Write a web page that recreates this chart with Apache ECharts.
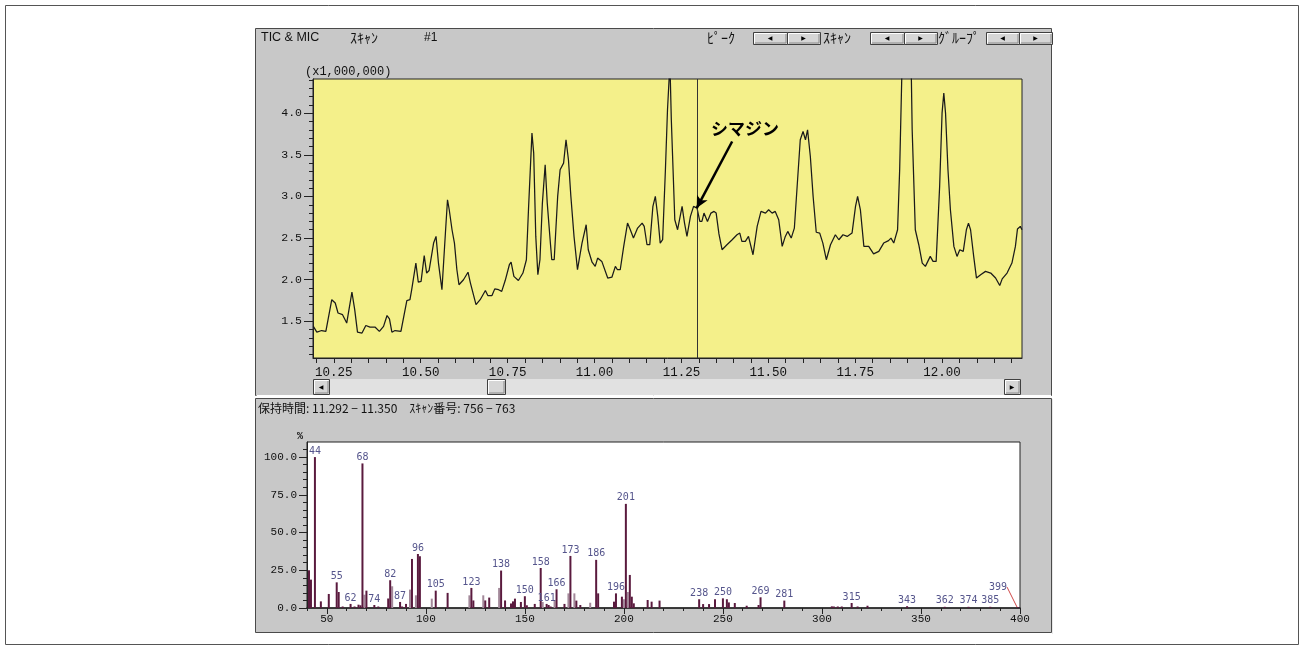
<!DOCTYPE html>
<html><head><meta charset="utf-8">
<script src="https://cdn.jsdelivr.net/npm/echarts@6/dist/echarts.min.js"></script>
<style>html,body{margin:0;padding:0;background:#fff}#c{width:1304px;height:649px}</style>
</head><body><div id="c"></div>
<script>
// ---------- TIC chromatogram (retention time in min, intensity x1,000,000) ----------
const ticTime = [10.191,10.201,10.215,10.227,10.244,10.254,10.262,10.275,10.287,10.302,10.310,10.318,10.331,10.342,10.354,10.369,10.381,10.393,10.403,10.410,10.417,10.426,10.443,10.460,10.469,10.474,10.486,10.493,10.501,10.510,10.517,10.524,10.537,10.544,10.551,10.561,10.571,10.577,10.582,10.590,10.597,10.604,10.610,10.623,10.636,10.643,10.659,10.671,10.686,10.693,10.705,10.713,10.724,10.733,10.743,10.755,10.760,10.768,10.781,10.794,10.804,10.810,10.820,10.825,10.831,10.837,10.843,10.850,10.858,10.864,10.873,10.877,10.884,10.894,10.901,10.911,10.918,10.925,10.932,10.941,10.951,10.964,10.976,10.982,10.993,11.002,11.009,11.021,11.038,11.050,11.060,11.066,11.074,11.084,11.095,11.103,11.112,11.124,11.137,11.143,11.151,11.159,11.168,11.175,11.182,11.189,11.196,11.204,11.210,11.217,11.221,11.226,11.231,11.239,11.252,11.259,11.266,11.276,11.285,11.295,11.303,11.309,11.315,11.325,11.335,11.344,11.350,11.358,11.367,11.381,11.396,11.410,11.418,11.424,11.434,11.443,11.456,11.468,11.479,11.492,11.501,11.511,11.520,11.530,11.540,11.549,11.556,11.566,11.575,11.583,11.592,11.600,11.607,11.613,11.621,11.629,11.638,11.648,11.657,11.667,11.679,11.693,11.703,11.715,11.727,11.741,11.751,11.757,11.765,11.775,11.789,11.803,11.818,11.832,11.846,11.853,11.861,11.872,11.878,11.885,11.891,11.898,11.905,11.911,11.914,11.923,11.933,11.943,11.952,11.966,11.974,11.983,11.993,12.000,12.005,12.010,12.017,12.024,12.034,12.043,12.051,12.061,12.070,12.076,12.082,12.091,12.099,12.111,12.125,12.140,12.154,12.166,12.173,12.187,12.201,12.211,12.217,12.225,12.230];
const ticValue = [1.44,1.37,1.39,1.38,1.76,1.72,1.60,1.58,1.48,1.85,1.64,1.37,1.36,1.45,1.43,1.43,1.38,1.44,1.57,1.53,1.37,1.39,1.38,1.75,1.76,1.88,2.20,1.97,1.98,2.29,2.08,2.11,2.44,2.52,2.20,1.88,2.56,2.96,2.84,2.60,2.44,2.12,1.94,2.00,2.09,1.96,1.70,1.76,1.87,1.81,1.81,1.89,1.88,1.86,1.99,2.18,2.21,2.04,1.99,2.08,2.24,2.84,3.76,3.52,2.52,2.06,2.24,2.92,3.38,2.92,2.44,2.24,2.24,3.00,3.32,3.40,3.68,3.44,3.00,2.52,2.12,2.44,2.66,2.36,2.21,2.16,2.26,2.22,2.02,2.03,2.16,2.12,2.12,2.40,2.68,2.60,2.50,2.62,2.68,2.64,2.42,2.42,2.88,3.00,2.76,2.44,2.48,3.32,4.04,4.60,3.92,3.32,2.72,2.60,2.88,2.68,2.52,2.76,2.88,2.86,2.70,2.70,2.80,2.70,2.80,2.82,2.80,2.55,2.36,2.42,2.48,2.54,2.56,2.46,2.46,2.52,2.30,2.64,2.82,2.80,2.84,2.80,2.82,2.72,2.40,2.52,2.58,2.50,2.62,3.12,3.68,3.78,3.68,3.80,3.48,3.00,2.57,2.56,2.44,2.24,2.42,2.54,2.48,2.54,2.52,2.56,2.88,3.00,2.84,2.40,2.40,2.31,2.34,2.44,2.47,2.50,2.44,2.60,3.32,4.60,5.40,5.60,5.30,4.60,3.80,2.60,2.42,2.20,2.16,2.28,2.22,2.22,3.12,4.00,4.24,4.00,3.32,2.84,2.40,2.28,2.36,2.34,2.60,2.68,2.60,2.28,2.02,2.06,2.10,2.08,2.02,1.93,2.01,2.08,2.20,2.40,2.61,2.64,2.60];
const ticXLabels = [10.25,10.50,10.75,11.00,11.25,11.50,11.75,12.00];
const ticYLabels = [1.5,2.0,2.5,3.0,3.5,4.0];
const cursorTime = 11.295;
const compoundName = 'シマジン';
const arrowFrom = [11.396, 3.66];
const arrowTo = [11.294, 2.86];

// ---------- Mass spectrum (m/z, relative intensity %) ----------
const specMz  = [41,42,44,47,51,55,56,58,62,64,66,67,68,70,74,76,81,82,87,88,90,93,96,97,105,111,123,124,130,132,138,140,143,144,145,148,150,151,155,158,161,162,163,166,170,173,176,178,186,187,195,196,199,201,203,204,205,212,214,218,238,240,243,246,250,252,253,256,262,268,269,281,305,306,308,310,315,318,323,343,362,374,385];
const specInt = [25.0,18.8,100,4.4,9.3,17.0,10.6,1.0,2.7,1.0,2.2,1.8,95.8,11.5,2.0,1.0,6.3,18.4,4.0,1.0,2.7,32.5,35.8,34.3,11.5,10.0,13.3,5.0,5.0,6.9,24.8,5.0,3.0,4.4,6.2,4.0,7.8,1.8,2.7,26.5,2.7,2.0,1.0,12.4,2.7,34.5,4.9,2.0,31.9,9.7,4.2,9.7,7.5,69.0,21.9,7.5,3.1,5.3,4.2,4.9,5.8,2.6,2.6,5.8,6.4,5.8,3.7,3.3,1.5,2.0,7.1,4.9,1.1,1.0,1.0,1.0,3.3,1.0,1.5,1.2,0.8,0.8,0.8];
const lightMz  = [69,83,92,95,103,122,129,137,159,165,172,175,183,200,202];
const lightInt = [8.8,14.4,12.2,8.4,6.2,8.4,8.4,13.3,4.0,5.3,9.7,9.7,3.5,5.8,10.6];
const labeledMz = [44,55,62,68,74,82,87,96,105,123,138,150,158,161,166,173,186,196,201,238,250,269,281,315,343,362,374,385];
const endMz = [399];
const endInt = [0.6];
const specXLabels = [50,100,150,200,250,300,350,400];
const specYLabels = [0,25,50,75,100];

// minor tick positions
const ticXMinor = []; for (let i = 0; i <= 40; i++) ticXMinor.push(+(10.20 + i * 0.05).toFixed(2));
const ticYMinor = []; for (let i = 11; i <= 44; i++) ticYMinor.push(+(i / 10).toFixed(1));
const specXMinor = []; for (let m = 40; m <= 400; m += 10) specXMinor.push(m);
const specYMinor = []; for (let p = 0; p <= 105; p += 5) specYMinor.push(p);

const pair = (a, b) => a.map((x, i) => [x, b[i]]);

const GRAY = '#c8c8c8';
const MONO = 'Liberation Mono';
const JP = 'Noto Sans CJK JP';

function button(x, y, w, h, glyph) {
  return [
    {type:'rect', shape:{x:x+0.5, y:y+0.5, width:w, height:h}, style:{fill:'#d6d6d6', stroke:'#404040', lineWidth:1}, z:50},
    {type:'polyline', shape:{points:[[x+1.5, y+h-0.5],[x+1.5, y+1.5],[x+w-0.5, y+1.5]]}, style:{stroke:'#ffffff', lineWidth:1, fill:null}, z:51},
    {type:'polyline', shape:{points:[[x+2, y+h-1],[x+w-1, y+h-1],[x+w-1, y+2]]}, style:{stroke:'#8a8a8a', lineWidth:1, fill:null}, z:51},
    {type:'text', x:x+w/2, y:y+h/2+0.5, style:{text:glyph, fill:'#000', font:'6px "DejaVu Sans"', textAlign:'center', textVerticalAlign:'middle'}, z:52}
  ];
}
function txt(x, y, s, font, align) {
  return {type:'text', x:x, y:y, style:{text:s, fill:'#111', font:font, textAlign:align||'left', textVerticalAlign:'middle'}, z:60};
}

const graphics = [
  {type:'rect', shape:{x:5.5, y:5.5, width:1293, height:639}, style:{fill:'#fff', stroke:'#555', lineWidth:1}, z:-200},
  // upper panel
  {type:'rect', shape:{x:255.5, y:28.5, width:796, height:367}, style:{fill:GRAY, stroke:'#4a4a4a', lineWidth:1}, z:-150},
  {type:'line', shape:{x1:256.5, y1:395.5, x2:1051, y2:395.5}, style:{stroke:'#ffffff', lineWidth:1}, z:-149},
  // lower panel
  {type:'rect', shape:{x:255.5, y:398.5, width:796, height:234}, style:{fill:GRAY, stroke:'#4a4a4a', lineWidth:1}, z:-150},
  {type:'line', shape:{x1:1052.5, y1:399, x2:1052.5, y2:634}, style:{stroke:'#e8e8e8', lineWidth:1}, z:-149},
  // header texts
  txt(261, 37.5, 'TIC & MIC', '12.5px "Liberation Sans"'),
  txt(350, 37.5, 'ｽｷｬﾝ', '14px "' + JP + '"'),
  txt(424, 37.5, '#1', '12px "Liberation Sans"'),
  txt(707, 37.5, 'ﾋﾟｰｸ', '14px "' + JP + '"'),
  txt(823, 37.5, 'ｽｷｬﾝ', '14px "' + JP + '"'),
  txt(938, 37.5, 'ｸﾞﾙｰﾌﾟ', '14px "' + JP + '"'),
  ...button(753, 32, 34, 12, '◀'), ...button(787, 32, 33, 12, '▶'),
  ...button(870, 32, 34, 12, '◀'), ...button(904, 32, 33, 12, '▶'),
  ...button(986, 32, 33, 12, '◀'), ...button(1019, 32, 33, 12, '▶'),
  txt(305, 72, '(x1,000,000)', '12px "' + MONO + '"'),
  // scrollbar
  {type:'rect', shape:{x:313, y:379, width:708, height:16}, style:{fill:'#e1e1e1', stroke:null}, z:40},
  ...button(313, 379, 16, 15, '◀'),
  ...button(487, 379, 18, 15, ''),
  ...button(1004, 379, 16, 15, '▶'),
  // annotation text
  {type:'text', x:745, y:129, style:{text:compoundName, fill:'#000', font:'bold 17px "' + JP + '"', textAlign:'center', textVerticalAlign:'middle'}, z:60},
  // lower panel header
  txt(258, 408, '保持時間: 11.292 − 11.350　ｽｷｬﾝ番号: 756 − 763', '12px "' + JP + '"'),
  txt(300, 436, '%', 'bold 10px "' + MONO + '"', 'center')
];

const axisText = {color:'#111', fontFamily:MONO};

const option = {
  animation: false,
  backgroundColor: '#ffffff',
  graphic: {elements: graphics},
  grid: [
    {left:313, top:79, width:709, height:279, show:true, backgroundColor:'#f4f08a', borderColor:'#222', borderWidth:1},
    {left:307, top:442, width:713, height:166, show:true, backgroundColor:'#ffffff', borderColor:'#222', borderWidth:1}
  ],
  xAxis: [
    {type:'value', gridIndex:0, position:'bottom', offset:0, min:10.19, max:12.23,
     axisLine:{show:true, onZero:false, lineStyle:{color:'#222'}},
     axisTick:{show:true, length:5, customValues:ticXMinor, lineStyle:{color:'#222'}},
     axisLabel:{show:true, customValues:ticXLabels, formatter:v => v.toFixed(2), fontSize:12.5, margin:8, ...axisText},
     splitLine:{show:false}},
    {type:'value', gridIndex:1, position:'bottom', offset:0, min:40, max:400,
     axisLine:{show:true, onZero:false, lineStyle:{color:'#222', width:1.5}},
     axisTick:{show:true, length:3, customValues:specXMinor, lineStyle:{color:'#222'}},
     axisLabel:{show:false}, splitLine:{show:false}},
    {type:'value', gridIndex:1, position:'bottom', offset:0, min:40, max:400,
     axisLine:{show:false, onZero:false},
     axisTick:{show:true, length:6, customValues:specXLabels, lineStyle:{color:'#222'}},
     axisLabel:{show:true, customValues:specXLabels, formatter:v => String(v), fontSize:11, margin:6, ...axisText},
     splitLine:{show:false}}
  ],
  yAxis: [
    {type:'value', gridIndex:0, position:'left', offset:0, min:1.06, max:4.41,
     axisLine:{show:true, onZero:false, lineStyle:{color:'#222'}},
     axisTick:{show:true, length:4, customValues:ticYMinor, lineStyle:{color:'#222'}},
     axisLabel:{show:false}, splitLine:{show:false}},
    {type:'value', gridIndex:0, position:'left', offset:0, min:1.06, max:4.41,
     axisLine:{show:false, onZero:false},
     axisTick:{show:true, length:9, customValues:ticYLabels, lineStyle:{color:'#222'}},
     axisLabel:{show:true, customValues:ticYLabels, formatter:v => v.toFixed(1), fontSize:11.5, margin:11, ...axisText},
     splitLine:{show:false}},
    {type:'value', gridIndex:1, position:'left', offset:0, min:0, max:110,
     axisLine:{show:true, onZero:false, lineStyle:{color:'#222'}},
     axisTick:{show:true, length:4, customValues:specYMinor, lineStyle:{color:'#222'}},
     axisLabel:{show:false}, splitLine:{show:false}},
    {type:'value', gridIndex:1, position:'left', offset:0, min:0, max:110,
     axisLine:{show:false, onZero:false},
     axisTick:{show:true, length:8, customValues:specYLabels, lineStyle:{color:'#222'}},
     axisLabel:{show:true, customValues:specYLabels, formatter:v => v.toFixed(1), fontSize:11, margin:10, ...axisText},
     splitLine:{show:false}}
  ],
  series: [
    {type:'line', xAxisIndex:0, yAxisIndex:0, data:pair(ticTime, ticValue), showSymbol:false, clip:true,
     lineStyle:{color:'#1a1a1a', width:1.25}, z:3,
     markLine:{silent:true, animation:false, label:{show:false},
       data:[
         [{xAxis:cursorTime, yAxis:1.06, symbol:'none', lineStyle:{color:'#333', width:1, type:'solid'}},
          {xAxis:cursorTime, yAxis:4.41, symbol:'none'}],
         [{coord:arrowFrom, symbol:'none', lineStyle:{color:'#000', width:2.5, type:'solid'}},
          {coord:arrowTo, symbol:'arrow', symbolSize:[9, 12]}]
       ]}},
    {type:'bar', name:'light', xAxisIndex:1, yAxisIndex:2, data:pair(lightMz, lightInt), barWidth:2, barGap:'-100%',
     itemStyle:{color:'#a3899a'}, z:2},
    {type:'bar', name:'main', xAxisIndex:1, yAxisIndex:2, data:pair(specMz, specInt), barWidth:2, barGap:'-100%',
     itemStyle:{color:'#5a1a3e'}, z:3,
     label:{show:true, position:'top', distance:1, fontSize:10, fontFamily:'DejaVu Sans Mono', color:'#55558c',
       formatter:p => labeledMz.indexOf(p.value[0]) >= 0 ? String(p.value[0]) : ''}},
    {type:'bar', name:'end', xAxisIndex:1, yAxisIndex:2, data:pair(endMz, endInt), barWidth:2, barGap:'-100%',
     itemStyle:{color:'#5a1a3e'}, z:3,
     label:{show:true, position:'top', distance:1, fontSize:10, fontFamily:'DejaVu Sans Mono', color:'#55558c',
       formatter:p => String(p.value[0])},
     labelLayout:{dx:-20, dy:-14},
     labelLine:{show:true, lineStyle:{color:'#d04848', width:1}}}
  ]
};

const chart = echarts.init(document.getElementById('c'), null, {renderer:'canvas', width:1304, height:649});
chart.setOption(option);
</script></body></html>
